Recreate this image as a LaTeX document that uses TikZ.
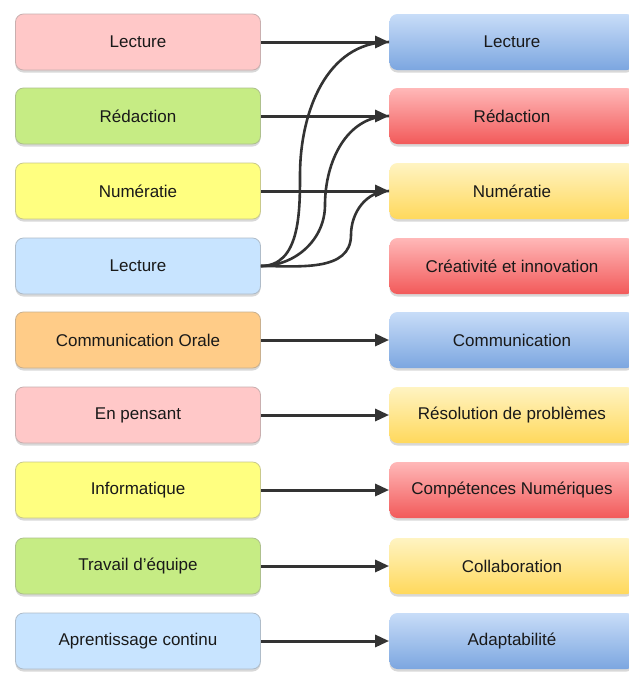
\documentclass[tikz,border=0pt]{standalone}
\usepackage{fontspec}
\setmainfont{Liberation Sans}
\usepackage{xcolor}
\usetikzlibrary{arrows.meta,shadows}

\definecolor{pinkL}{HTML}{FFC8C8}
\definecolor{greenL}{HTML}{C6EC84}
\definecolor{yellowL}{HTML}{FFFF80}
\definecolor{blueL}{HTML}{C8E4FF}
\definecolor{orangeL}{HTML}{FFCC88}
\definecolor{blueTop}{HTML}{C8DDF8}
\definecolor{blueBot}{HTML}{7CA6E0}
\definecolor{redTop}{HTML}{FFB8B8}
\definecolor{redBot}{HTML}{F25A5A}
\definecolor{yellowTop}{HTML}{FFF4C2}
\definecolor{yellowBot}{HTML}{FFD85C}
\definecolor{lineC}{HTML}{333333}

\begin{document}
\begin{tikzpicture}[x=1pt, y=-1pt,
  skill/.style={rounded corners=8pt, minimum width=245pt, minimum height=56pt,
    font=\fontsize{17}{20}\selectfont, text=black!90, line width=0.8pt,
    drop shadow={opacity=0.3, shadow xshift=0pt, shadow yshift=-2.5pt}},
  leftbox/.style={skill, draw=#1!70!black!70, fill=#1},
  blueR/.style={skill, draw=none, top color=blueTop, bottom color=blueBot},
  redR/.style={skill, draw=none, top color=redTop, bottom color=redBot},
  yellowR/.style={skill, draw=none, top color=yellowTop, bottom color=yellowBot},
  arr/.style={draw=lineC, line width=3pt, -{Triangle[length=14pt, width=12pt]}},
  link/.style={draw=lineC, line width=2.6pt}]

\useasboundingbox (0,0) rectangle (629,673);
\fill[white] (0,0) rectangle (629,673);
\clip (0,0) rectangle (629,673);

% left column
\node[leftbox=pinkL]   (l1) at (138, 42)  {Lecture};
\node[leftbox=greenL]  (l2) at (138, 116) {Rédaction};
\node[leftbox=yellowL] (l3) at (138, 191) {Numératie};
\node[leftbox=blueL]   (l4) at (138, 266) {Lecture};
\node[leftbox=orangeL] (l5) at (138, 340) {Communication Orale};
\node[leftbox=pinkL]   (l6) at (138, 415) {En pensant};
\node[leftbox=yellowL] (l7) at (138, 490) {Informatique};
\node[leftbox=greenL]  (l8) at (138, 566) {Travail d’équipe};
\node[leftbox=blueL]   (l9) at (138, 641) {Aprentissage continu};

% right column
\node[blueR]   (r1) at (512, 42)  {Lecture};
\node[redR]    (r2) at (512, 116) {Rédaction};
\node[yellowR] (r3) at (512, 191) {Numératie};
\node[redR]    (r4) at (512, 266) {Créativité et innovation};
\node[blueR]   (r5) at (512, 340) {Communication};
\node[yellowR] (r6) at (512, 415) {Résolution de problèmes};
\node[redR]    (r7) at (512, 490) {Compétences Numériques};
\node[yellowR] (r8) at (512, 566) {Collaboration};
\node[blueR]   (r9) at (512, 641) {Adaptabilité};

% curves from the second Lecture
\draw[link] (l4.east) to[out=0, in=270] (300, 175) to[out=90, in=180] (r1.west);
\draw[link] (l4.east) to[out=0, in=270] (325, 205) to[out=90, in=180] (r2.west);
\draw[link] (l4.east) to[out=0, in=270] (351, 235) to[out=90, in=180] (r3.west);

\draw[arr] (l1) -- (r1);
\draw[arr] (l2) -- (r2);
\draw[arr] (l3) -- (r3);
\draw[arr] (l5) -- (r5);
\draw[arr] (l6) -- (r6);
\draw[arr] (l7) -- (r7);
\draw[arr] (l8) -- (r8);
\draw[arr] (l9) -- (r9);
\end{tikzpicture}
\end{document}
